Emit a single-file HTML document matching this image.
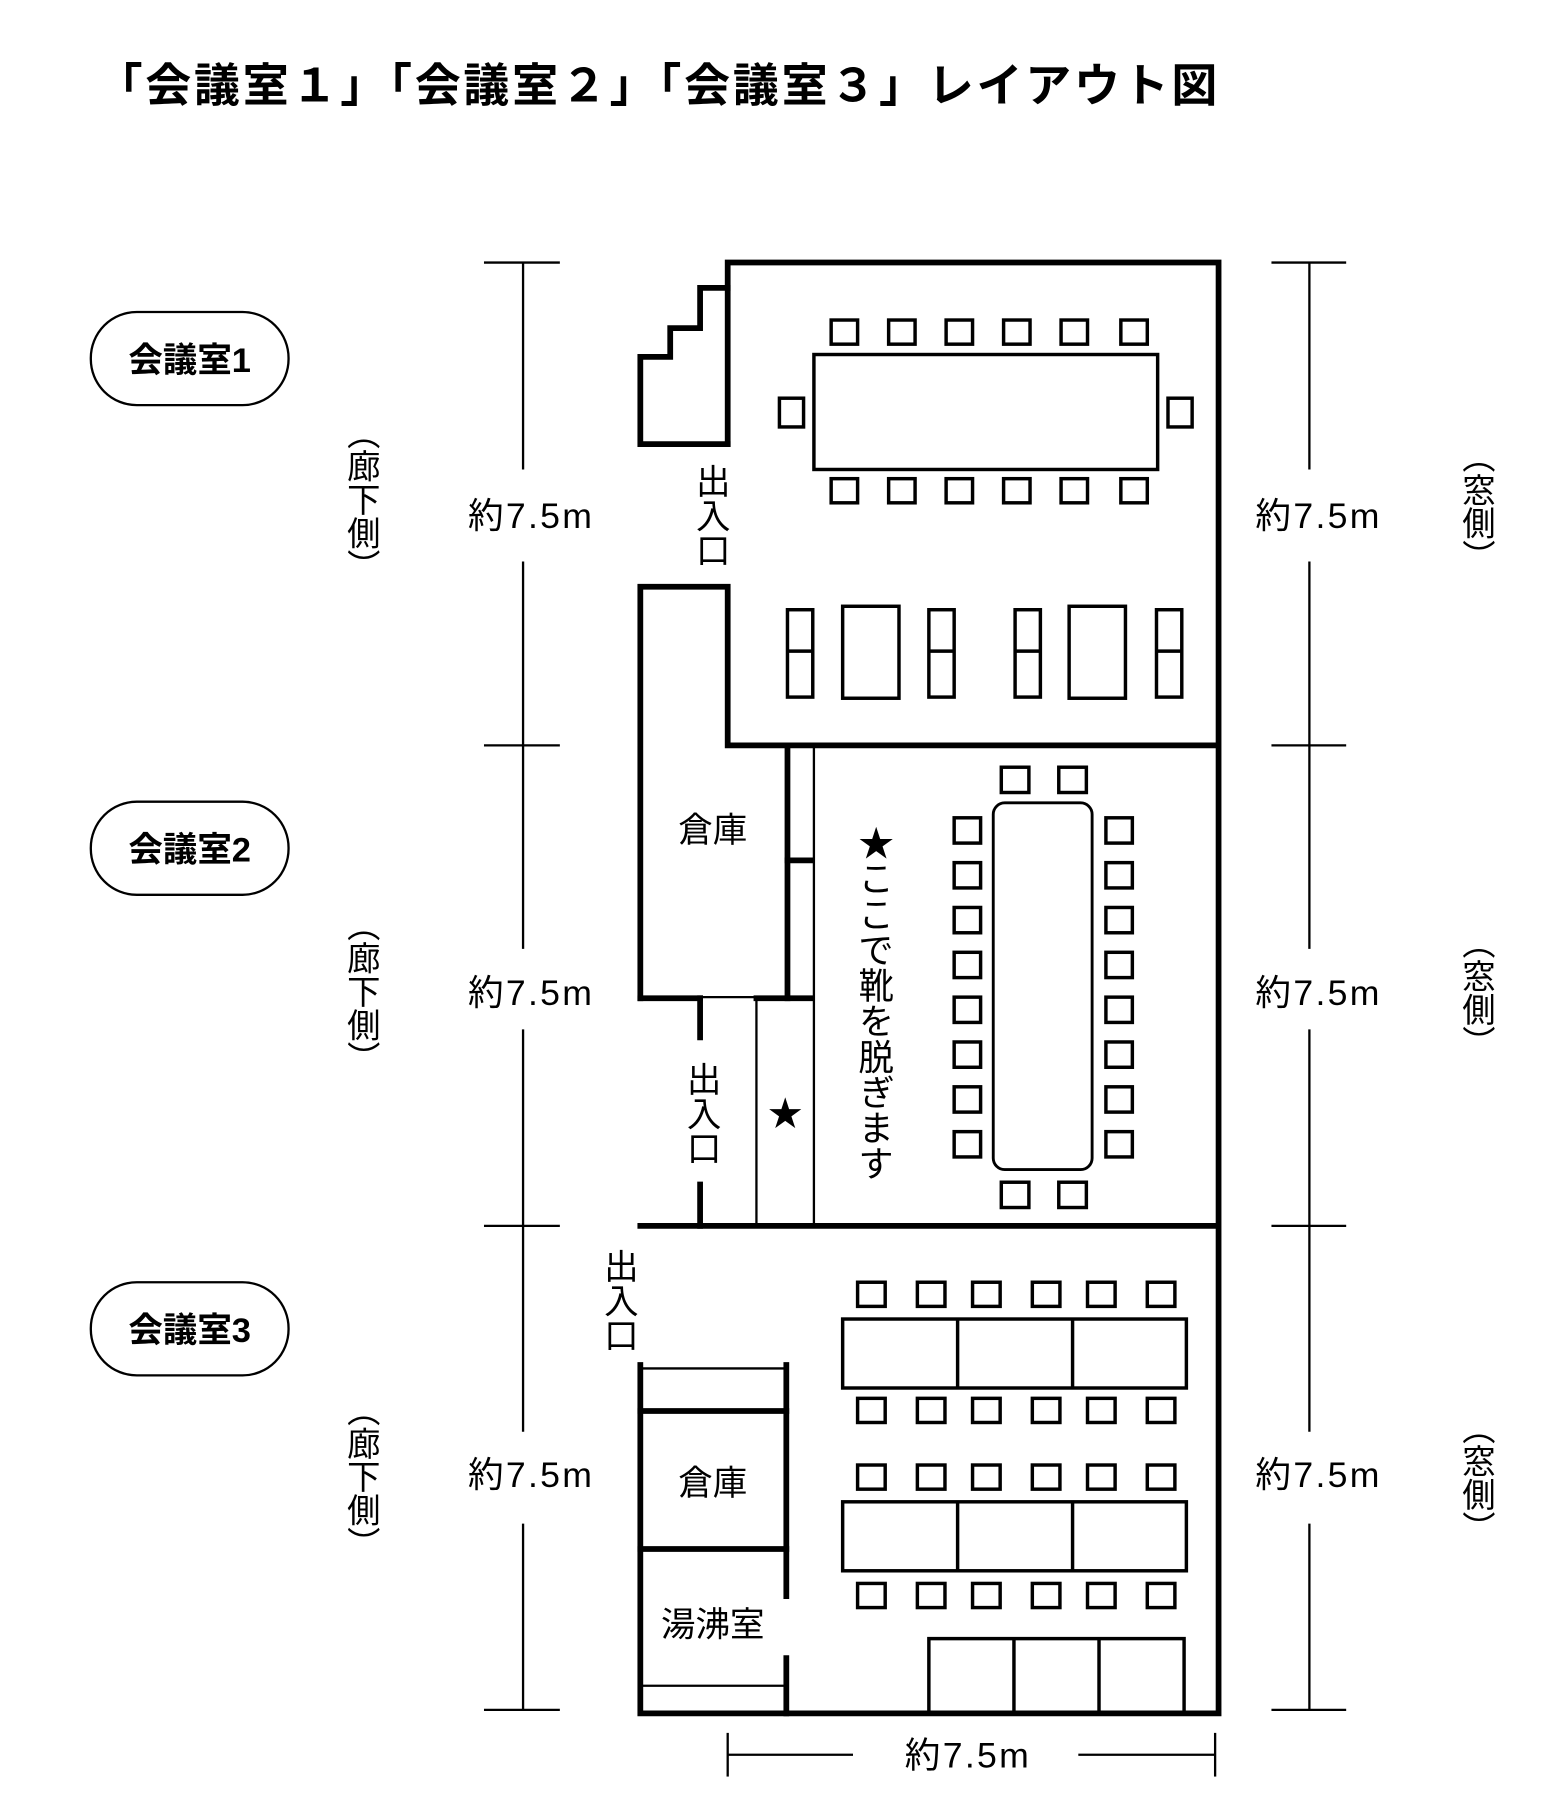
<!DOCTYPE html>
<html><head><meta charset="utf-8"><style>
html,body{margin:0;padding:0;background:#fff;}
svg{display:block;}
text{font-family:"Liberation Sans","Noto Sans CJK JP",sans-serif;fill:#000;}
.v{writing-mode:vertical-rl;text-orientation:mixed;}
</style></head><body>
<svg width="1560" height="1800" viewBox="0 0 1357 1565" xmlns="http://www.w3.org/2000/svg">
<rect width="1357" height="1565" fill="#fff"/>
<text x="84" y="88" font-size="40" font-weight="bold" textLength="975" lengthAdjust="spacing">「会議室１」「会議室２」「会議室３」レイアウト図</text>

<!-- pills -->
<g fill="none" stroke="#000" stroke-width="2">
<rect x="79" y="271" width="172" height="81" rx="40"/>
<rect x="79" y="697" width="172" height="81" rx="40"/>
<rect x="79" y="1115" width="172" height="81" rx="40"/>
</g>
<g font-size="30" font-weight="bold" text-anchor="middle">
<text x="165" y="323">会議室1</text>
<text x="165" y="749">会議室2</text>
<text x="165" y="1167">会議室3</text>
</g>

<!-- side labels -->
<g font-size="29" text-anchor="middle">
<text class="v" x="313" y="434">（廊下側）</text>
<text class="v" x="313" y="862">（廊下側）</text>
<text class="v" x="313" y="1284">（廊下側）</text>
<text class="v" x="1283" y="440">（窓側）</text>
<text class="v" x="1283" y="863">（窓側）</text>
<text class="v" x="1283" y="1285">（窓側）</text>
</g>

<!-- dimension lines -->
<g stroke="#000" stroke-width="2" fill="none">
<line x1="455" y1="228" x2="455" y2="408"/><line x1="455" y1="488" x2="455" y2="825"/>
<line x1="455" y1="895" x2="455" y2="1245"/><line x1="455" y1="1325" x2="455" y2="1487"/>
<line x1="421" y1="228" x2="487" y2="228"/><line x1="421" y1="648" x2="487" y2="648"/>
<line x1="421" y1="1066" x2="487" y2="1066"/><line x1="421" y1="1487" x2="487" y2="1487"/>
<line x1="1139" y1="228" x2="1139" y2="408"/><line x1="1139" y1="488" x2="1139" y2="825"/>
<line x1="1139" y1="895" x2="1139" y2="1245"/><line x1="1139" y1="1325" x2="1139" y2="1487"/>
<line x1="1106" y1="228" x2="1171" y2="228"/><line x1="1106" y1="648" x2="1171" y2="648"/>
<line x1="1106" y1="1066" x2="1171" y2="1066"/><line x1="1106" y1="1487" x2="1171" y2="1487"/>
<line x1="633" y1="1526" x2="742" y2="1526"/><line x1="938" y1="1526" x2="1057" y2="1526"/>
<line x1="633" y1="1507" x2="633" y2="1545"/><line x1="1057" y1="1507" x2="1057" y2="1545"/>
</g>
<g font-size="31" text-anchor="middle" letter-spacing="2">
<text x="462" y="459">約7.5m</text>
<text x="462" y="874">約7.5m</text>
<text x="462" y="1293">約7.5m</text>
<text x="1147" y="459">約7.5m</text>
<text x="1147" y="874">約7.5m</text>
<text x="1147" y="1293">約7.5m</text>
<text x="842" y="1537">約7.5m</text>
</g>

<!-- thick walls -->
<g stroke="#000" stroke-width="5" fill="none" stroke-linecap="square">
<polyline points="633,386 633,228 1060,228 1060,1490 557,1490 557,1187"/>
<polyline points="633,250 609,250 609,285 583,285 583,310 557,310 557,386 633,386"/>
<polyline points="557,868 557,510 633,510 633,648 1057,648"/>
<line x1="685" y1="648" x2="685" y2="868"/>
<line x1="685" y1="748" x2="706" y2="748"/>
<line x1="557" y1="868" x2="609" y2="868"/>
<line x1="658" y1="868" x2="706" y2="868"/>
<line x1="609" y1="868" x2="609" y2="902"/>
<line x1="609" y1="1030" x2="609" y2="1066"/>
<line x1="557" y1="1066" x2="1057" y2="1066"/>
<line x1="684" y1="1187" x2="684" y2="1388"/>
<line x1="684" y1="1442" x2="684" y2="1490"/>
<line x1="557" y1="1227" x2="684" y2="1227"/>
<line x1="557" y1="1347" x2="684" y2="1347"/>
</g>
<g stroke="#000" stroke-width="2" fill="none">
<line x1="708" y1="650" x2="708" y2="1066"/>
<line x1="609" y1="867" x2="658" y2="867"/>
<line x1="658" y1="867" x2="658" y2="1066"/>
<line x1="557" y1="1190" x2="684" y2="1190"/>
<line x1="557" y1="1466" x2="684" y2="1466"/>
</g>

<!-- room labels -->
<g font-size="30" text-anchor="middle">
<text class="v" x="617" y="448">出入口</text>
<text class="v" x="609" y="968">出入口</text>
<text class="v" x="537" y="1131">出入口</text>
<text x="620" y="732">倉庫</text>
<text x="620" y="1300">倉庫</text>
<text x="620" y="1423">湯沸室</text>
</g>
<text x="683" y="979" font-size="30" text-anchor="middle">★</text>
<text class="v" x="760" y="872" font-size="31" text-anchor="middle">★ここで靴を脱ぎます</text>

<!-- furniture -->
<g stroke="#000" stroke-width="3" fill="none">
<rect x="708" y="308" width="299" height="100"/>
<rect x="723" y="278" width="23" height="21"/><rect x="773" y="278" width="23" height="21"/><rect x="823" y="278" width="23" height="21"/><rect x="873" y="278" width="23" height="21"/><rect x="923" y="278" width="23" height="21"/><rect x="975" y="278" width="23" height="21"/>
<rect x="723" y="416" width="23" height="21"/><rect x="773" y="416" width="23" height="21"/><rect x="823" y="416" width="23" height="21"/><rect x="873" y="416" width="23" height="21"/><rect x="923" y="416" width="23" height="21"/><rect x="975" y="416" width="23" height="21"/>
<rect x="678" y="346" width="21" height="25"/><rect x="1016" y="346" width="21" height="25"/>
<rect x="685" y="530" width="22" height="76"/><line x1="685" y1="566" x2="707" y2="566"/>
<rect x="733" y="527" width="49" height="80"/>
<rect x="808" y="530" width="22" height="76"/><line x1="808" y1="566" x2="830" y2="566"/>
<rect x="883" y="530" width="22" height="76"/><line x1="883" y1="566" x2="905" y2="566"/>
<rect x="930" y="527" width="49" height="80"/>
<rect x="1006" y="530" width="22" height="76"/><line x1="1006" y1="566" x2="1028" y2="566"/>
<rect x="864" y="698" width="86" height="319" rx="10" stroke-width="2.5"/>
<rect x="871" y="667" width="24" height="22"/><rect x="921" y="667" width="24" height="22"/>
<rect x="871" y="1028" width="24" height="22"/><rect x="921" y="1028" width="24" height="22"/>
<g id="lc">
<rect x="830" y="711" width="23" height="22"/><rect x="830" y="750" width="23" height="22"/><rect x="830" y="789" width="23" height="22"/><rect x="830" y="828" width="23" height="22"/><rect x="830" y="867" width="23" height="22"/><rect x="830" y="906" width="23" height="22"/><rect x="830" y="945" width="23" height="22"/><rect x="830" y="984" width="23" height="22"/>
</g>
<use href="#lc" x="132"/>
<rect x="733" y="1147" width="299" height="60"/><line x1="833" y1="1147" x2="833" y2="1207"/><line x1="933" y1="1147" x2="933" y2="1207"/>
<rect x="733" y="1306" width="299" height="60"/><line x1="833" y1="1306" x2="833" y2="1366"/><line x1="933" y1="1306" x2="933" y2="1366"/>
<g id="cr">
<rect x="746" y="1115" width="24" height="21"/><rect x="798" y="1115" width="24" height="21"/><rect x="846" y="1115" width="24" height="21"/><rect x="898" y="1115" width="24" height="21"/><rect x="946" y="1115" width="24" height="21"/><rect x="998" y="1115" width="24" height="21"/>
</g>
<use href="#cr" y="101"/><use href="#cr" y="159"/><use href="#cr" y="262"/>
<rect x="808" y="1425" width="222" height="65"/><line x1="882" y1="1425" x2="882" y2="1490"/><line x1="956" y1="1425" x2="956" y2="1490"/>
</g>
</svg>
</body></html>
